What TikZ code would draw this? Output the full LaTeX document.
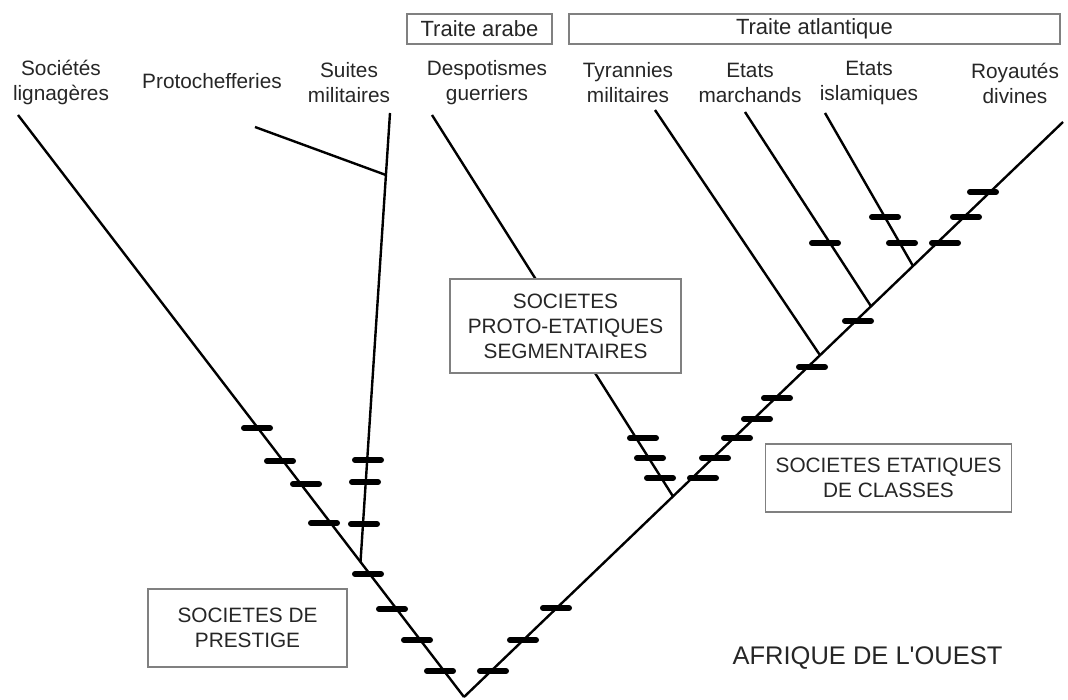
\documentclass[tikz,border=0pt]{standalone}
\usepackage{fontspec}
\setmainfont{Liberation Sans}
\newfontfamily\plainsans{Liberation Sans}
\begin{document}
\begin{tikzpicture}[x=1pt,y=-1pt,
  lbl/.style={align=center,inner sep=0pt,text=black!85,font=\fontsize{20.8}{25}\selectfont},
  boxed/.style={lbl,draw=black!50,line width=1.4pt,fill=white},
  branch/.style={line width=2.4pt,black},
  tickbar/.style={line width=6pt,line cap=round,black}]
\useasboundingbox (0,0) rectangle (1068,700);
% coordinates
\coordinate (root) at (464,697);
\coordinate (lTop) at (18,115);
\coordinate (sTop) at (390,113);
\coordinate (sJoin) at (385.9,175);
\coordinate (sBase) at (360.5,562);
\coordinate (pTop) at (255,127);
\coordinate (dTop) at (432,115);
\coordinate (dBase) at (673,496.4);
\coordinate (rTop) at (1063,122);
\coordinate (tTop) at (655,110);
\coordinate (tBase) at (820,355.2);
\coordinate (mTop) at (745,112);
\coordinate (mBase) at (871,306.3);
\coordinate (iTop) at (825,113);
\coordinate (iBase) at (913,266);
% branches
\draw[branch] (root) -- (lTop);
\draw[branch] (root) -- (rTop);
\draw[branch] (sBase) -- (sTop);
\draw[branch] (pTop) -- (sJoin);
\draw[branch] (dBase) -- (dTop);
\draw[branch] (tBase) -- (tTop);
\draw[branch] (mBase) -- (mTop);
\draw[branch] (iBase) -- (iTop);
% tick bars
\foreach \x/\y in {257/428,280/461,306/484,324/523,368/574,392/609,417/640,440/671,
  368/460,365/482,364/524,
  493/671,523/640,556/608,
  643/438,650/458,660/478,
  703/478,715/458,737/438,757/419,777/398,812/367,858/321,945/243,966/217,983/192,
  825/243,885/217,902/243}
  \draw[tickbar] (\x-13,\y) -- (\x+13,\y);
% labels
\node[lbl] (nLign) at (61,83) {Sociétés\\lignagères};
\node[lbl] (nProto) at (212,81) {Protochefferies};
\node[lbl] (nSuites) at (349,83) {Suites\\militaires};
\node[lbl] (nDesp) at (487,83) {Despotismes\\guerriers};
\node[lbl] (nTyr) at (628,83) {Tyrannies\\militaires};
\node[lbl] (nMarch) at (750,83) {Etats\\marchands};
\node[lbl] (nIsl) at (869,83) {Etats\\islamiques};
\node[lbl] (nRoy) at (1015,83) {Royautés\\divines};
% boxes
\node[boxed,font=\fontsize{22}{25}\selectfont,minimum width=145pt,minimum height=30pt] (bArabe) at (479.5,29) {Traite arabe};
\node[boxed,font=\fontsize{22}{25}\selectfont,minimum width=491pt,minimum height=30pt] (bAtl) at (814.5,29) {Traite atlantique};
\node[boxed,minimum width=231pt,minimum height=94pt] (bSeg) at (565.5,326) {SOCIETES\\PROTO-ETATIQUES\\SEGMENTAIRES};
\node[boxed,minimum width=246pt,minimum height=68pt] (bClass) at (888.5,478) {SOCIETES ETATIQUES\\DE CLASSES};
\node[boxed,minimum width=199pt,minimum height=78pt] (bPrest) at (247.5,628) {SOCIETES DE\\PRESTIGE};
\node[lbl,font=\plainsans\fontsize{25.5}{28}\selectfont] (nAfr) at (867.5,658) {AFRIQUE DE L'OUEST};
\end{tikzpicture}
\end{document}
